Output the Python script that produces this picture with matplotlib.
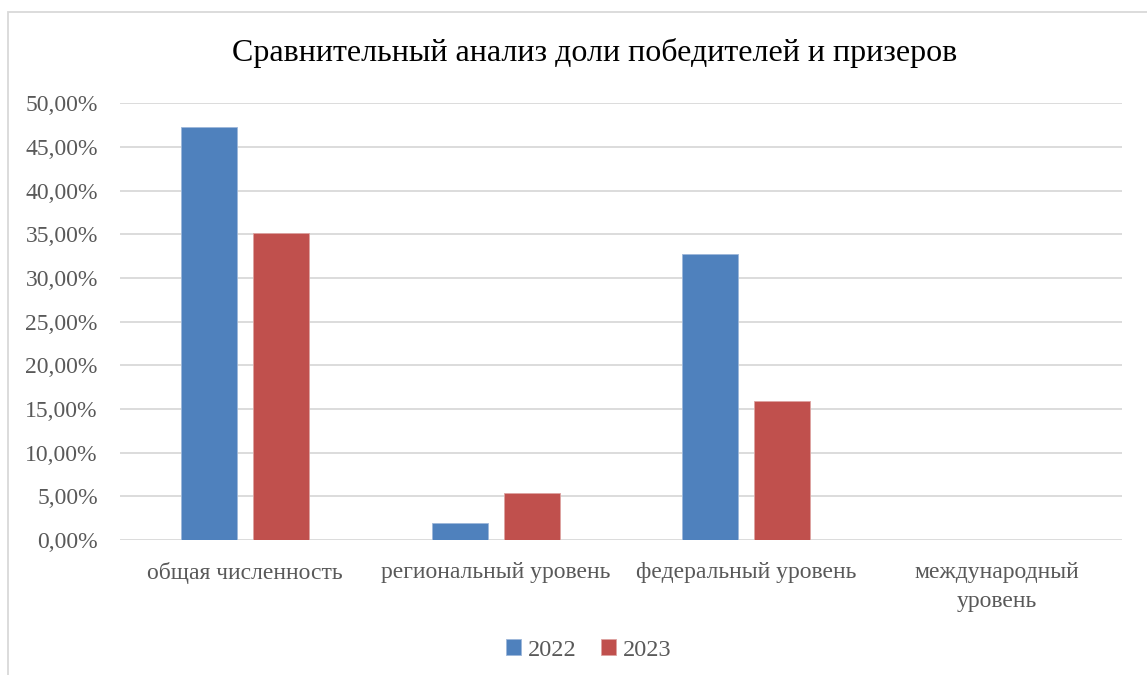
import numpy as np
import matplotlib.pyplot as plt
from matplotlib.patches import Rectangle
from matplotlib.ticker import FuncFormatter, MultipleLocator

plt.rcParams['font.family'] = ['Liberation Serif', 'DejaVu Serif']

# данные
categories = ['общая численность', 'региональный уровень', 'федеральный уровень', 'международный\nуровень']
years = ['2022', '2023']
v2022 = [0.473, 0.019, 0.327, 0.0]
v2023 = [0.352, 0.054, 0.159, 0.0]
colors = ['#4F81BD', '#C0504D']

fig = plt.figure(figsize=(11.47, 6.75), dpi=100)
ax = fig.add_axes([0.1046, 0.2, 0.8735, 0.647])

x = np.arange(len(categories))
w = 0.224
ax.bar(x - 0.144, v2022, w, color=colors[0], edgecolor='#9DB7DA', linewidth=0.6, label=years[0], zorder=3)
ax.bar(x + 0.144, v2023, w, color=colors[1], edgecolor='#DDA3A1', linewidth=0.6, label=years[1], zorder=3)

ax.set_xlim(-0.5, len(categories) - 0.5)
ax.set_ylim(0, 0.5)
ax.yaxis.set_major_locator(MultipleLocator(0.05))
ax.yaxis.set_major_formatter(FuncFormatter(lambda v, p: ('%.2f%%' % (v * 100)).replace('.', ',')))
ax.grid(axis='y', color='#D9D9D9', linewidth=1.3, zorder=0)
for s in ax.spines.values():
    s.set_visible(False)
ax.tick_params(axis='both', length=0, labelsize=17, labelcolor='#595959')
ax.tick_params(axis='y', pad=16)
ax.tick_params(axis='x', pad=16)
ax.set_xticks(x)
ax.set_xticklabels(categories, va='top', linespacing=1.5)

fig.text(0.518, 0.922, 'Сравнительный анализ доли победителей и призеров',
         ha='center', va='center', fontsize=23, color='#000000')

fig.legend(loc='center', bbox_to_anchor=(0.513, 0.037), ncol=2, frameon=False,
           fontsize=17.5, handlelength=0.65, handleheight=0.65, handletextpad=0.25,
           columnspacing=1.0, labelcolor='#595959')

# рамка
fig.patches.append(Rectangle((8 / 1147, -0.1), 1.2, 1.1 - 12 / 675, transform=fig.transFigure,
                             fill=False, edgecolor='#D9D9D9', linewidth=1.3))

fig.savefig('out.png', dpi=100)
